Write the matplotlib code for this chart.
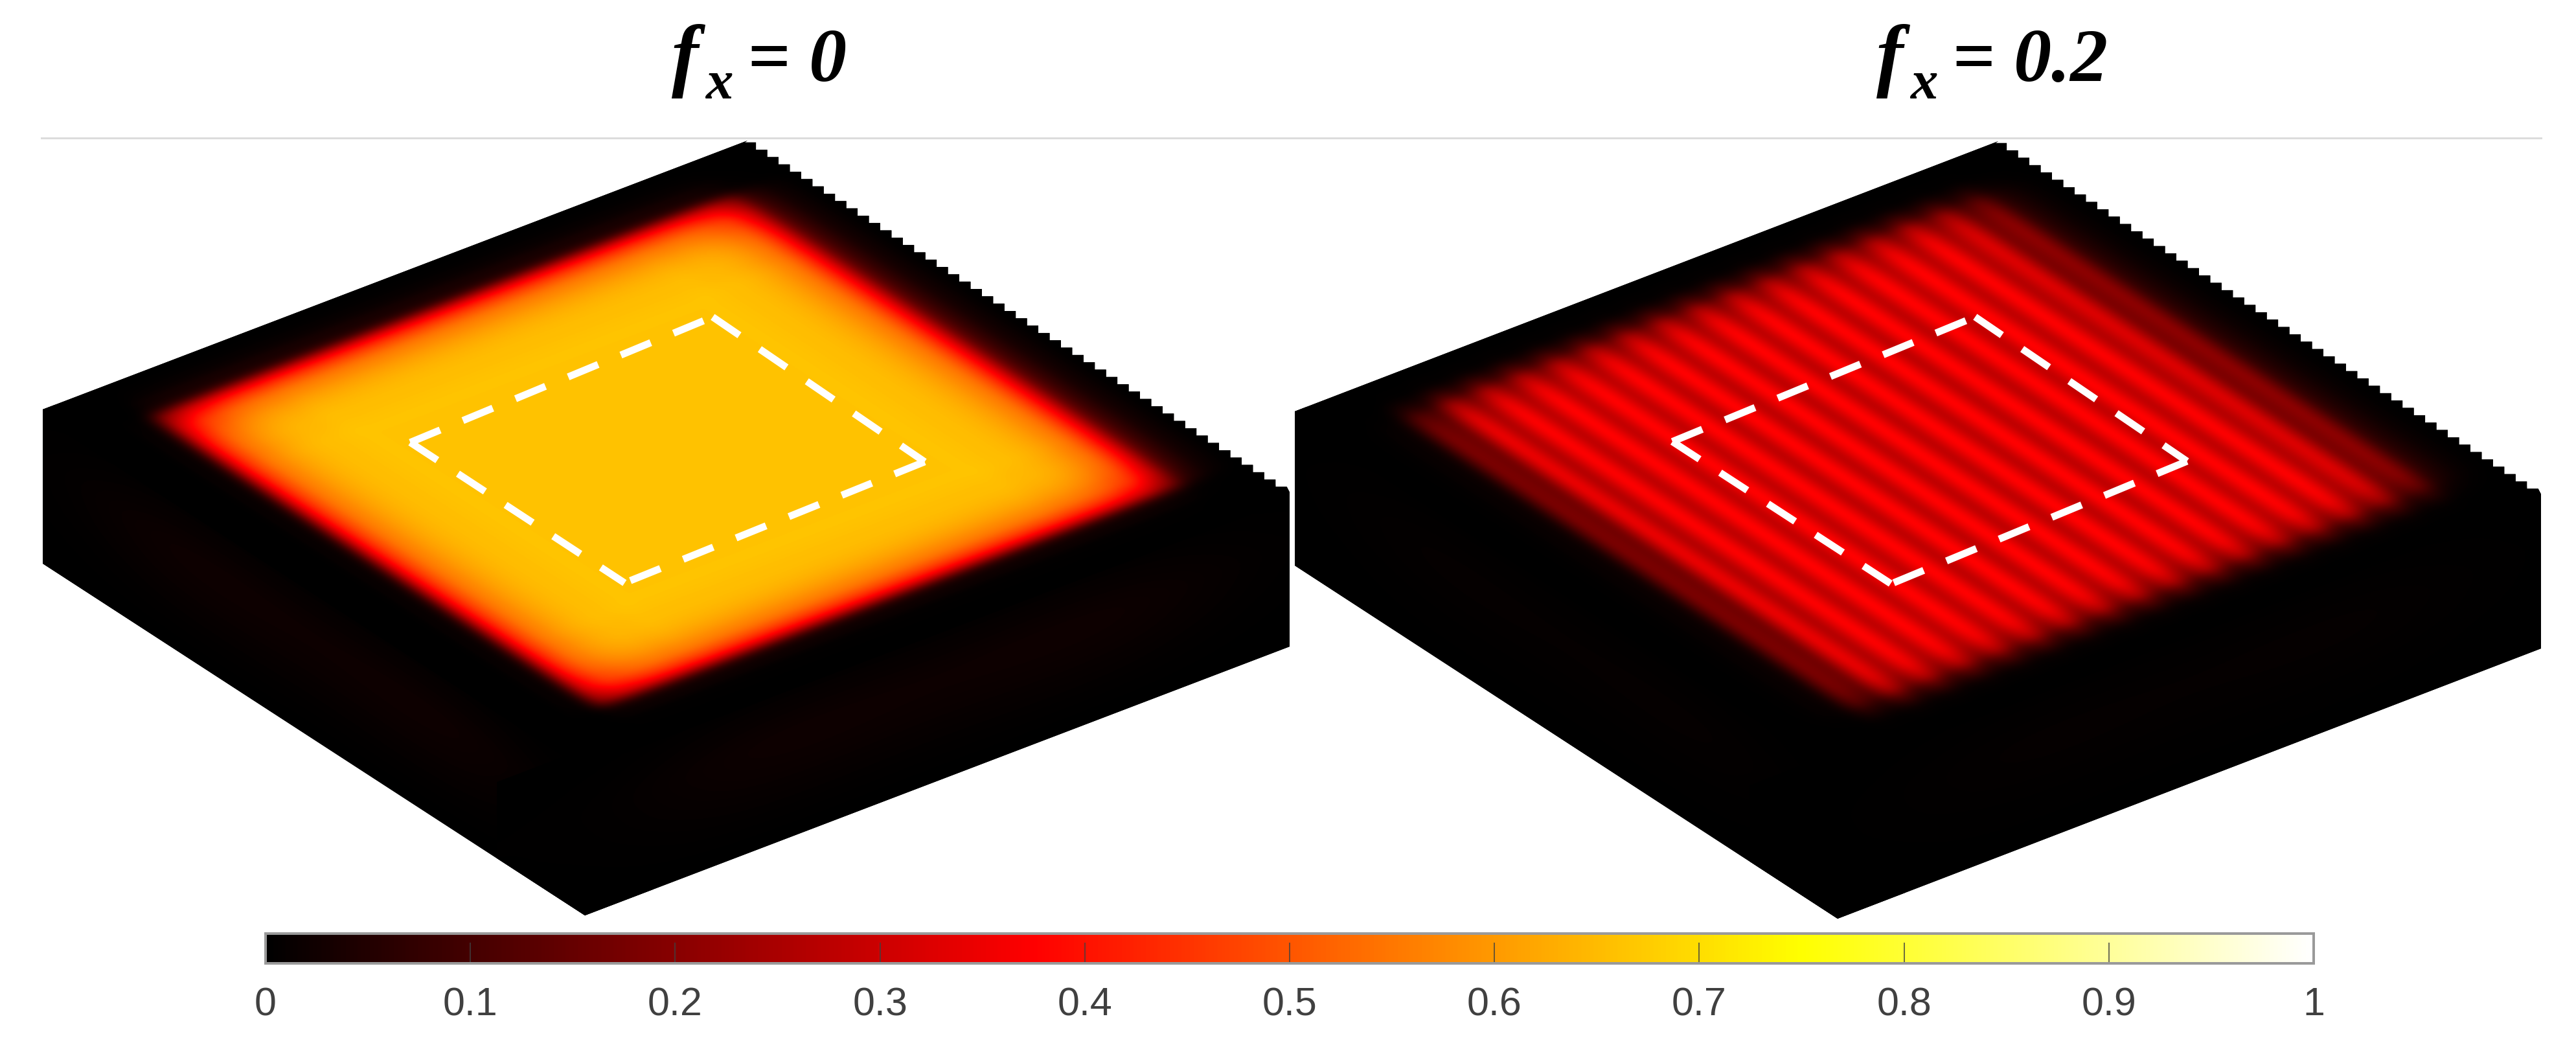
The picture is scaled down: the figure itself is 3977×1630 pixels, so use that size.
import numpy as np
import matplotlib
matplotlib.use('Agg')
import matplotlib.pyplot as plt
from matplotlib.cm import ScalarMappable
from matplotlib.colors import LinearSegmentedColormap, Normalize
from matplotlib.patches import Polygon
from matplotlib.transforms import Affine2D

#========================================================
# values, one sample every 0.025 of the top face
# s runs left corner -> back corner, t runs back corner -> right corner
s_left = [0.0, 0.002, 0.012, 0.09, 0.56, 0.79, 0.89, 0.95, 0.98, 0.99, 1,
          1, 1, 1, 1, 1, 1, 1, 1, 1, 1, 1, 1, 1, 1, 1, 1, 1, 1, 1,
          1, 0.99, 0.98, 0.95, 0.89, 0.79, 0.56, 0.22, 0.08, 0.025, 0.0]
t_left = [0.0, 0.01, 0.04, 0.13, 0.56, 0.79, 0.89, 0.95, 0.98, 0.99, 1,
          1, 1, 1, 1, 1, 1, 1, 1, 1, 1, 1, 1, 1, 1, 1, 1, 1, 1, 1,
          1, 0.99, 0.98, 0.95, 0.89, 0.79, 0.56, 0.11, 0.02, 0.004, 0.0]
plateau_left = 0.662

s_right = [0.0, 0.002, 0.01, 0.035, 0.17, 0.18, 0.34, 0.27, 0.37, 0.285, 0.375,
           0.29, 0.375, 0.29, 0.375, 0.285, 0.375, 0.285, 0.375, 0.285, 0.375,
           0.285, 0.375, 0.285, 0.375, 0.285, 0.375, 0.285, 0.375, 0.29, 0.375,
           0.285, 0.37, 0.27, 0.32, 0.19, 0.2, 0.08, 0.03, 0.008, 0.0]
t_right = [0.0, 0.01, 0.06, 0.3, 0.68, 0.88, 0.96, 0.99,
           1, 1, 1, 1, 1, 1, 1, 1, 1, 1, 1, 1, 1, 1, 1, 1, 1, 1, 1, 1, 1, 1, 1, 1, 1,
           0.99, 0.97, 0.9, 0.7, 0.32, 0.07, 0.01, 0.0]

# glow on the two side faces, fold -> bottom, and along the edge
side_depth_left = [0.004, 0.012, 0.02, 0.017, 0.01, 0.004, 0.0]
side_depth_right = [0.002, 0.005, 0.008, 0.007, 0.004, 0.002, 0.0]
side_edge = [0.2, 1, 1, 1, 0.2]

# dashed square on the top face
roi_left_s = [0.283, 0.726, 0.716, 0.281]
roi_left_t = [0.310, 0.292, 0.696, 0.708]
roi_right_s = [0.296, 0.738, 0.729, 0.296]
roi_right_t = [0.312, 0.297, 0.699, 0.715]

titles = ['= 0', '= 0.2']
cbar_ticks = [0, 0.1, 0.2, 0.3, 0.4, 0.5, 0.6, 0.7, 0.8, 0.9, 1]
cbar_labels = ['0', '0.1', '0.2', '0.3', '0.4', '0.5', '0.6', '0.7', '0.8', '0.9', '1']
#========================================================

W, H = 3977, 1630
DPI = 100
PX = 72. / DPI  # points per pixel

hot = LinearSegmentedColormap.from_list(
    'matlab_hot',
    [(0, '#000000'), (0.375, '#ff0000'), (0.75, '#ffff00'), (1, '#ffffff')], N=512)

fig = plt.figure(figsize=(W / DPI, H / DPI), dpi=DPI)
ax = fig.add_axes([0, 0, 1, 1])


def face(origin, e1, e2, values, clip):
    # one flat face of the block, samples stretched between two edge vectors
    values = np.asarray(values)
    ny, nx = values.shape
    dx, dy = 0.5 / (nx - 1), 0.5 / (ny - 1)
    tr = Affine2D(np.array([[e1[0], e2[0], origin[0]],
                            [e1[1], e2[1], origin[1]],
                            [0, 0, 1.]]))
    im = ax.imshow(values, origin='lower', extent=(-dx, 1 + dx, -dy, 1 + dy),
                   cmap=hot, vmin=0, vmax=1, aspect='auto',
                   interpolation='catrom', interpolation_stage='data',
                   transform=tr + ax.transData, zorder=2)
    im.set_clip_path(clip)
    return tr


def block(L, A, R, depth, n_teeth, top, glow, roi_s, roi_t):
    L, A, R = np.array(L, float), np.array(A, float), np.array(R, float)
    F = L + R - A
    d = np.array([0, depth], float)

    # outline with the stair-stepped back edge, centred on the straight line
    xs = np.linspace(A[0], R[0], n_teeth + 1)
    ys = np.linspace(A[1], R[1], n_teeth + 1)
    ox, oy = (xs[1] - xs[0]) / 4., (ys[1] - ys[0]) / 4.
    stairs = [tuple(A)]
    for k in range(n_teeth):
        stairs.append((xs[k] - ox, ys[k] + oy))
        stairs.append((xs[k + 1] - ox, ys[k] + oy))
    stairs.append((R[0], R[1]))
    pts = [tuple(L)] + stairs + [tuple(R + d), tuple(F + d), tuple(L + d)]
    outline = Polygon(pts, closed=True, facecolor='black', edgecolor='none', zorder=1)
    ax.add_patch(outline)

    side = np.outer(glow, side_edge)
    face(F, L - F, d, side, outline)
    face(F, R - F, d, side, outline)
    tr = face(L, A - L, R - A, top, outline)

    # dashed square, each side starts its own dash pattern
    corners = tr.transform(np.column_stack([roi_s, roi_t]))
    for i, j in [(0, 1), (1, 2), (2, 3), (0, 3)]:
        ax.plot(corners[[i, j], 0], corners[[i, j], 1], color='white', lw=11 * PX,
                dashes=(50 / 11., 38 / 11.), dash_capstyle='butt', zorder=3)


ax.plot([64, 3923], [213, 213], color='#dcdcdc', lw=3 * PX, zorder=0)

block((66, 632), (1154, 217), (1991, 760), 238, 48,
      plateau_left * np.outer(t_left, s_left), side_depth_left, roi_left_s, roi_left_t)
block((1999, 635), (3085, 218), (3923, 763), 238, 48,
      np.outer(t_right, s_right), side_depth_right, roi_right_s, roi_right_t)

font = dict(family='Liberation Serif', weight='bold', style='italic', color='black',
            ha='left', va='baseline')
for x, title in zip([1033, 2893], titles):
    ax.text(x + 4, 125, 'f', fontsize=125 * PX, **font)
    ax.text(x + 56, 152, 'x', fontsize=85 * PX, **font)
    ax.text(x + 121, 125, title, fontsize=116 * PX, **font)

ax.set_xlim(0, W)
ax.set_ylim(H, 0)
ax.axis('off')

cax = fig.add_axes([410. / W, 1 - 1487. / H, 3162. / W, 46. / H])
cb = fig.colorbar(ScalarMappable(Normalize(0, 1), hot), cax=cax, orientation='horizontal')
cb.set_ticks(cbar_ticks)
cb.set_ticklabels(cbar_labels)
cb.minorticks_off()
cb.outline.set_edgecolor('#9a9a9a')
cb.outline.set_linewidth(4 * PX)
cax.tick_params(axis='x', direction='in', length=32 * PX, width=1.5 * PX, color='#404040',
                labelcolor='#404040', labelsize=61 * PX, pad=36 * PX)
for lab in cax.get_xticklabels():
    lab.set_family('Liberation Sans')

fig.savefig('out.png', dpi=DPI)
